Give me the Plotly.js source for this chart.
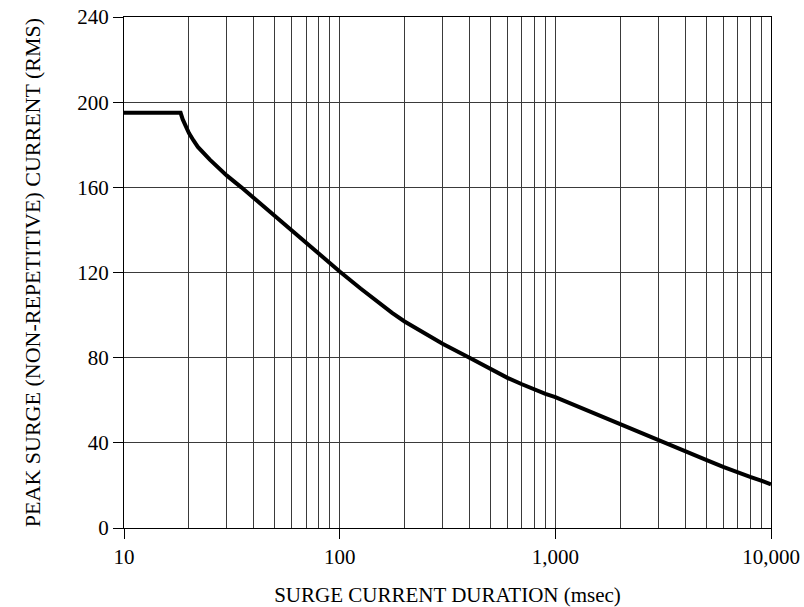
<!DOCTYPE html>
<html>
<head>
<meta charset="utf-8">
<script src="https://cdn.plot.ly/plotly-3.0.1.min.js"></script>
<style>
  html, body { margin: 0; padding: 0; background: #fff; }
  #chart { width: 804px; height: 607px; }
</style>
</head>
<body>
<div id="chart"></div>
<script>
// Surge current duration (msec)
const durationMs = [10, 18.3, 18.7, 19.2, 20, 21, 22, 25, 30, 35, 40, 50, 60, 70, 80, 90, 100,
  125, 150, 175, 200, 250, 300, 400, 500, 600, 700, 800, 900, 1000,
  1500, 2000, 3000, 4000, 5000, 6000, 7000, 8000, 9000, 10000];
// Peak surge (non-repetitive) current (RMS)
const peakCurrent = [195, 195, 192, 189, 185.5, 182, 179, 173, 165.5, 160, 155, 146.5, 139.5, 133.5, 128.5, 124.5, 120.5,
  112.5, 106, 101, 97, 91, 86.5, 80, 74.5, 70.5, 67.5, 65, 63, 61.5,
  54, 48.5, 41, 36, 32, 28.7, 26, 24, 22.3, 20.5];

const xTickVals = [10, 100, 1000, 10000];
const xTickText = ["10", "100", "1,000", "10,000"];
const yTickVals = [0, 40, 80, 120, 160, 200, 240];
const minorDigits = [2, 3, 4, 5, 6, 7, 8, 9];
const decades = [10, 100, 1000];

const minorVals = [];
decades.forEach(d => minorDigits.forEach(m => minorVals.push(d * m)));

const fontFam = "Liberation Serif, Times New Roman, serif";
const gridCol = "#3a3a3a";

const trace = {
  x: durationMs,
  y: peakCurrent,
  type: "scatter",
  mode: "lines",
  line: { color: "#000", width: 4, shape: "linear" },
  hoverinfo: "x+y"
};

const layout = {
  width: 804,
  height: 607,
  margin: { l: 124, r: 33, t: 17, b: 79 },
  paper_bgcolor: "#fff",
  plot_bgcolor: "#fff",
  showlegend: false,
  font: { family: fontFam, size: 20, color: "#000" },
  xaxis: {
    type: "log",
    range: [1, 4],
    tickmode: "array",
    tickvals: xTickVals,
    ticktext: xTickText,
    ticks: "outside",
    ticklen: 10,
    tickwidth: 1,
    tickcolor: "#000",
    showgrid: true,
    gridcolor: gridCol,
    gridwidth: 1,
    showline: true,
    linecolor: "#000",
    linewidth: 1,
    mirror: true,
    zeroline: false,
    tickfont: { family: fontFam, size: 21, color: "#000" },
    minor: {
      tickmode: "array",
      tickvals: minorVals,
      showgrid: true,
      gridcolor: gridCol,
      gridwidth: 1,
      ticks: ""
    },
    title: {
      text: "SURGE CURRENT DURATION (msec)",
      font: { family: fontFam, size: 21, color: "#000" },
      standoff: 20
    }
  },
  yaxis: {
    range: [0, 240],
    tickmode: "array",
    tickvals: yTickVals,
    ticks: "outside",
    ticklen: 10,
    tickwidth: 1,
    tickcolor: "#000",
    showgrid: true,
    gridcolor: gridCol,
    gridwidth: 1,
    showline: true,
    linecolor: "#000",
    linewidth: 1,
    mirror: true,
    zeroline: false,
    tickfont: { family: fontFam, size: 21, color: "#000" },
    title: {
      text: "PEAK SURGE (NON-REPETITIVE) CURRENT (RMS)",
      font: { family: fontFam, size: 22, color: "#000" },
      standoff: 30
    }
  }
};

Plotly.newPlot("chart", [trace], layout, { displayModeBar: false, staticPlot: true });
</script>
</body>
</html>
